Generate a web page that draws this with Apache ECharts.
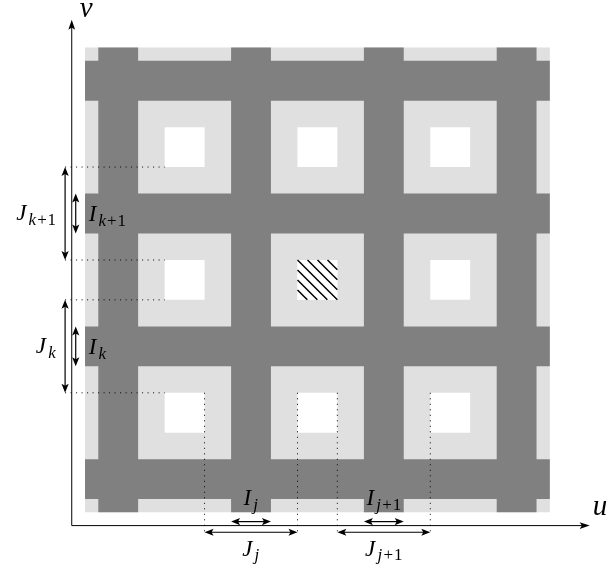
<!DOCTYPE html>
<html>
<head>
<meta charset="utf-8">
<script src="https://cdn.jsdelivr.net/npm/echarts@6/dist/echarts.min.js"></script>
<style>html,body{margin:0;padding:0;background:#fff}#c{width:610px;height:570px}</style>
</head>
<body>
<div id="c"></div>
<script>
// ---------------- data (u / v units) ----------------
const outerSquare = [1, 36];                               // lattice extent, same in u and v
const darkStrips  = [[2, 5], [12, 15], [22, 25], [32, 35]]; // dark bands (I intervals)
const holes       = [[7, 10], [17, 20], [27, 30]];          // white cells
const hatchedCell = [17, 20, 17, 20];                       // u0, u1, v0, v1
const axisEnds    = [39, 38.1];                             // arrow tips of u and v axes
const axisNames   = ['u', 'v'];
// vertical dimension marks (intervals in v)
const vJIntervals = [[20, 27], [10, 17]];
const vIIntervals = [[22, 25], [12, 15]];
const vJLabels    = [['J', 'k+1'], ['J', 'k']];
const vILabels    = [['I', 'k+1'], ['I', 'k']];
// horizontal dimension marks (intervals in u)
const uJIntervals = [[10, 17], [20, 27]];
const uIIntervals = [[12, 15], [22, 25]];
const uJLabels    = [['J', 'j'], ['J', 'j+1']];
const uILabels    = [['I', 'j'], ['I', 'j+1']];

// ---------------- styling / layout constants ----------------
const LIGHT = '#e0e0e0', DARK = '#808080';
const J_OFF = -0.5, I_OFF = 0.3, DOT_END = -0.5;
const MAIN = 23, SUB = 17, AXN = 29, SUBDROP = 4.5;
const FAM = 'Liberation Serif';
// advance widths (em) used to space main symbol and subscript glyphs
const ADV_I = { J: 0.54, I: 0.42, u: 0.5, v: 0.444, k: 0.46, j: 0.31 };
const ADV_R = { '+': 0.66, '1': 0.5 };
function tw(t, italic, size) {
  let w = 0;
  for (const c of t) w += ((italic ? ADV_I[c] : ADV_R[c]) || 0.5) * size;
  return w;
}

function mathLabel(main, sub, x, baseline, align, size) {
  size = size || MAIN;
  const runs = [{ t: main, it: true, s: size, dy: 0 }];
  if (sub) {
    for (const c of sub) runs.push({ t: c, it: /[A-Za-z]/.test(c), s: SUB, dy: SUBDROP });
  }
  runs.forEach(r => r.w = tw(r.t, r.it, r.s));
  const total = runs.reduce((a, r) => a + r.w, 0);
  let cx = align === 'left' ? x : align === 'right' ? x - total : x - total / 2;
  const out = [];
  runs.forEach(r => {
    const st = { text: r.t, fontSize: r.s, fontFamily: FAM, fill: '#000' };
    if (r.it) st.fontStyle = 'italic';
    const shift = r.t === '+' ? (r.w - 0.564 * r.s) / 2 : 0;
    out.push({ type: 'text', x: cx + shift, y: baseline + r.dy - 0.3375 * r.s - r.s / 2, style: st });
    cx += r.w;
  });
  return out;
}

function head(tip, dir, L, W) {
  const n = [-dir[1], dir[0]];
  const bx = tip[0] - dir[0] * L, by = tip[1] - dir[1] * L;
  const nx = tip[0] - dir[0] * L * 0.78, ny = tip[1] - dir[1] * L * 0.78;
  return { type: 'polygon', shape: { points: [tip, [bx + n[0] * W, by + n[1] * W], [nx, ny], [bx - n[0] * W, by - n[1] * W]] },
           style: { fill: '#000' } };
}
function arrowLine(p0, p1, both, L, W, lw) {
  const dx = p1[0] - p0[0], dy = p1[1] - p0[1], len = Math.hypot(dx, dy);
  const d = [dx / len, dy / len];
  const s = both ? [p0[0] + d[0] * L * 0.7, p0[1] + d[1] * L * 0.7] : p0;
  const e = [p1[0] - d[0] * L * 0.7, p1[1] - d[1] * L * 0.7];
  const out = [{ type: 'line', shape: { x1: s[0], y1: s[1], x2: e[0], y2: e[1] }, style: { stroke: '#000', lineWidth: lw } }];
  out.push(head(p1, d, L, W));
  if (both) out.push(head(p0, [-d[0], -d[1]], L, W));
  return out;
}

// ---------------- lattice rectangles ----------------
const lattice = [];
lattice.push([outerSquare[0], outerSquare[1], outerSquare[0], outerSquare[1], 0]);
darkStrips.forEach(s => lattice.push([s[0], s[1], outerSquare[0], outerSquare[1], 1]));
darkStrips.forEach(s => lattice.push([outerSquare[0], outerSquare[1], s[0], s[1], 1]));
holes.forEach(hu => holes.forEach(hv => lattice.push([hu[0], hu[1], hv[0], hv[1], 2])));
lattice.push([hatchedCell[0], hatchedCell[1], hatchedCell[2], hatchedCell[3], 3]);
const fills = [LIGHT, DARK, '#ffffff', '#ffffff'];

function rectItem(params, api) {
  const a = api.coord([api.value(0), api.value(3)]);
  const b = api.coord([api.value(1), api.value(2)]);
  const kind = api.value(4);
  const x0 = a[0], y0 = a[1], w = b[0] - a[0], h = b[1] - a[1];
  const rect = { type: 'rect', shape: { x: x0, y: y0, width: w, height: h }, style: { fill: fills[kind] } };
  if (kind !== 3) return rect;
  const ch = [rect];
  const step = 10;
  for (let t = -Math.floor(w / step) * step; t < h; t += step) {
    if (t <= -w) continue;
    const sx = t >= 0 ? x0 : x0 - t, sy = t >= 0 ? y0 + t : y0;
    const ex = Math.min(x0 + w, x0 + h - t), ey = y0 + (ex - x0) + t;
    ch.push({ type: 'line', shape: { x1: sx, y1: sy, x2: ex, y2: ey }, style: { stroke: '#000', lineWidth: 1.5 } });
  }
  return { type: 'group', children: ch };
}

// ---------------- dotted guide lines ----------------
const dotted = [];
vJIntervals.forEach(iv => iv.forEach(v => dotted.push([DOT_END, v, holes[0][0], v])));
uJIntervals.forEach(iv => iv.forEach(u => dotted.push([u, holes[0][1], u, DOT_END])));
function dottedItem(params, api) {
  const a = api.coord([api.value(0), api.value(1)]), b = api.coord([api.value(2), api.value(3)]);
  return { type: 'line', shape: { x1: a[0], y1: a[1], x2: b[0], y2: b[1] },
           style: { stroke: '#000', lineWidth: 1, lineDash: [1, 4.5] } };
}

// ---------------- dimension arrows ----------------
function vDim(intervals, labels, uPos, side) {
  return { type: 'custom', coordinateSystem: 'cartesian2d', clip: false, silent: true, z: 5,
    data: intervals.map(iv => [uPos, iv[0], iv[1]]),
    renderItem(params, api) {
      const u = api.value(0);
      const p0 = api.coord([u, api.value(1)]), p1 = api.coord([u, api.value(2)]);
      const ch = arrowLine(p0, p1, true, 9, 3.6, 1.2);
      const lab = labels[params.dataIndex];
      const mid = (p0[1] + p1[1]) / 2;
      if (side === 'left') ch.push(...mathLabel(lab[0], lab[1], p0[0] - 9, mid + 8, 'right'));
      else ch.push(...mathLabel(lab[0], lab[1], p0[0] + 13, mid + 9, 'left'));
      return { type: 'group', children: ch };
    } };
}
function uDim(intervals, labels, vPos, side) {
  return { type: 'custom', coordinateSystem: 'cartesian2d', clip: false, silent: true, z: 5,
    data: intervals.map(iv => [iv[0], iv[1], vPos]),
    renderItem(params, api) {
      const v = api.value(2);
      const p0 = api.coord([api.value(0), v]), p1 = api.coord([api.value(1), v]);
      const ch = arrowLine(p0, p1, true, 9, 3.6, 1.2);
      const lab = labels[params.dataIndex];
      const mid = (p0[0] + p1[0]) / 2;
      if (side === 'above') ch.push(...mathLabel(lab[0], lab[1], mid, p0[1] - 15, 'center'));
      else ch.push(...mathLabel(lab[0], lab[1], mid, p0[1] + 25, 'center'));
      return { type: 'group', children: ch };
    } };
}

// ---------------- axes ----------------
const axesData = [[0, 0, axisEnds[0], 0], [0, 0, 0, axisEnds[1]]];
function axisItem(params, api) {
  const a = api.coord([api.value(0), api.value(1)]), b = api.coord([api.value(2), api.value(3)]);
  const ch = arrowLine(a, b, false, 10, 3.4, 1);
  const name = axisNames[params.dataIndex];
  if (params.dataIndex === 0) ch.push(...mathLabel(name, '', b[0] + 3, b[1] - 8, 'left', AXN));
  else ch.push(...mathLabel(name, '', b[0] + 8, b[1], 'left', AXN));
  return { type: 'group', children: ch };
}

const U = 13.28;
const chart = echarts.init(document.getElementById('c'), null, { renderer: 'canvas' });
chart.setOption({
  animation: false,
  backgroundColor: '#fff',
  grid: { left: 71.74, bottom: 44.4, width: 39 * U, height: 38 * U, containLabel: false },
  xAxis: { type: 'value', min: 0, max: 39, show: false },
  yAxis: { type: 'value', min: 0, max: 38, show: false },
  series: [
    { type: 'custom', coordinateSystem: 'cartesian2d', clip: false, silent: true, z: 1, data: lattice, renderItem: rectItem },
    { type: 'custom', coordinateSystem: 'cartesian2d', clip: false, silent: true, z: 3, data: dotted, renderItem: dottedItem },
    { type: 'custom', coordinateSystem: 'cartesian2d', clip: false, silent: true, z: 4, data: axesData, renderItem: axisItem },
    vDim(vJIntervals, vJLabels, J_OFF, 'left'),
    vDim(vIIntervals, vILabels, I_OFF, 'right'),
    uDim(uJIntervals, uJLabels, J_OFF, 'below'),
    uDim(uIIntervals, uILabels, I_OFF, 'above')
  ]
});
</script>
</body>
</html>
